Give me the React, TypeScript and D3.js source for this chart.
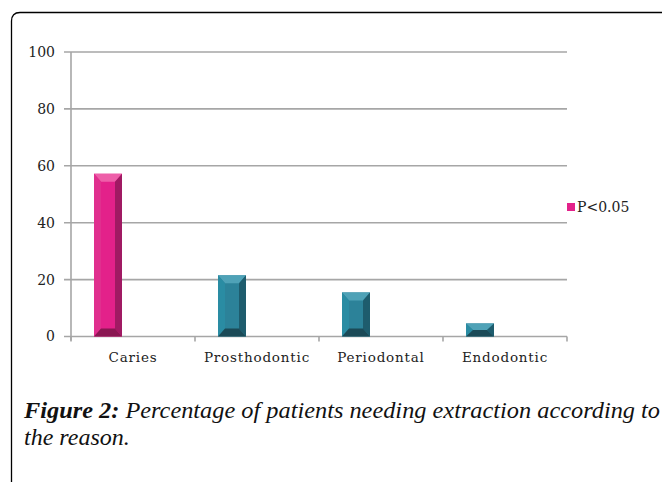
import React from "react";
import * as d3 from "d3";

const categories = ["Caries", "Prosthodontic", "Periodontal", "Endodontic"];
const values = [57.2, 21.5, 15.5, 4.6];
const significant = [true, false, false, false];
const yTicks = [0, 20, 40, 60, 80, 100];
const legendLabel = "P<0.05";
const captionBold = "Figure 2:";
const captionLine1 = " Percentage of patients needing extraction according to";
const captionLine2 = "the reason.";

const W = 662;
const H = 482;
const plotLeft = 71;
const plotRight = 567;
const plotTop = 52;
const plotBottom = 336.5;

const pink = { face: "#E3218A", top: "#EE5FA9", left: "#E02F8E", right: "#A01A63", bottom: "#8A1752" };
const teal = { face: "#2C8299", top: "#4FA2B7", left: "#2A8CA3", right: "#1E5C6D", bottom: "#1B4A57" };

export default function App() {
  const x = d3.scaleBand<string>().domain(categories).range([plotLeft, plotRight]);
  const y = d3.scaleLinear().domain([0, 100]).range([plotBottom, plotTop]);
  const bw = x.bandwidth();
  const barW = 28;
  const barOffset = -25;

  const serif = "'DejaVu Serif', serif";

  return (
    <svg width={W} height={H} style={{ position: "absolute", left: 0, top: 0, background: "#fff" }}>
      <path
        d={`M11.5,${H + 5} L11.5,21 Q11.5,12.5 20,12.5 L${W + 5},12.5`}
        fill="none"
        stroke="#000"
        strokeWidth={1.3}
      />
      {/* grid lines */}
      {yTicks.map((t) => (
        <g key={t}>
          <line x1={plotLeft - 7} x2={plotRight} y1={y(t)} y2={y(t)} stroke="#a6a6a6" strokeWidth={1.6} />
          <text
            x={55}
            y={y(t)}
            dy="0.35em"
            textAnchor="end"
            fontFamily={serif}
            fontSize={14}
            fill="#222"
          >
            {t}
          </text>
        </g>
      ))}
      {/* y axis */}
      <line x1={plotLeft} x2={plotLeft} y1={plotTop} y2={plotBottom + 4} stroke="#a6a6a6" strokeWidth={1.6} />
      {/* x ticks */}
      {d3.range(categories.length + 1).map((i) => {
        const xx = plotLeft + i * bw;
        return <line key={i} x1={xx} x2={xx} y1={plotBottom} y2={plotBottom + 5} stroke="#a6a6a6" strokeWidth={1.6} />;
      })}
      {/* bars */}
      {categories.map((c, i) => {
        const cx = (x(c) as number) + bw / 2 + barOffset;
        const x0 = cx - barW / 2;
        const x1 = cx + barW / 2;
        const yt = y(values[i]);
        const yb = plotBottom;
        const h = yb - yt;
        const bh = 7;
        const bv = Math.min(8, h / 2);
        const col = significant[i] ? pink : teal;
        const p = (pts: [number, number][]) => "M" + pts.map((q) => q.join(",")).join("L") + "Z";
        return (
          <g key={c}>
            <rect x={x0} y={yt} width={barW} height={h} fill={col.face} />
            <path d={p([[x0, yt], [x1, yt], [x1 - bh, yt + bv], [x0 + bh, yt + bv]])} fill={col.top} />
            <path d={p([[x0, yt], [x0 + bh, yt + bv], [x0 + bh, yb - bv], [x0, yb]])} fill={col.left} />
            <path d={p([[x1, yt], [x1 - bh, yt + bv], [x1 - bh, yb - bv], [x1, yb]])} fill={col.right} />
            <path d={p([[x0, yb], [x0 + bh, yb - bv], [x1 - bh, yb - bv], [x1, yb]])} fill={col.bottom} />
          </g>
        );
      })}
      {/* x labels */}
      {categories.map((c) => (
        <text
          key={c}
          x={(x(c) as number) + bw / 2}
          y={362}
          textAnchor="middle"
          fontFamily={serif}
          fontSize={13.5}
          letterSpacing={0.8}
          fill="#222"
        >
          {c}
        </text>
      ))}
      {/* legend */}
      <rect x={567} y={203} width={8} height={8} fill={pink.face} />
      <text x={577} y={212} fontFamily={serif} fontSize={14} fill="#222">
        {legendLabel}
      </text>
      {/* caption */}
      <text
        x={24}
        y={418}
        fontFamily="'Liberation Serif', serif"
        fontSize={24}
        fontStyle="italic"
        fill="#111"
        textLength={636}
        lengthAdjust="spacingAndGlyphs"
      >
        <tspan fontWeight="bold">{captionBold}</tspan>
        <tspan>{captionLine1}</tspan>
      </text>
      <text x={24} y={445} fontFamily="'Liberation Serif', serif" fontSize={24} fontStyle="italic" fill="#111">
        {captionLine2}
      </text>
    </svg>
  );
}
